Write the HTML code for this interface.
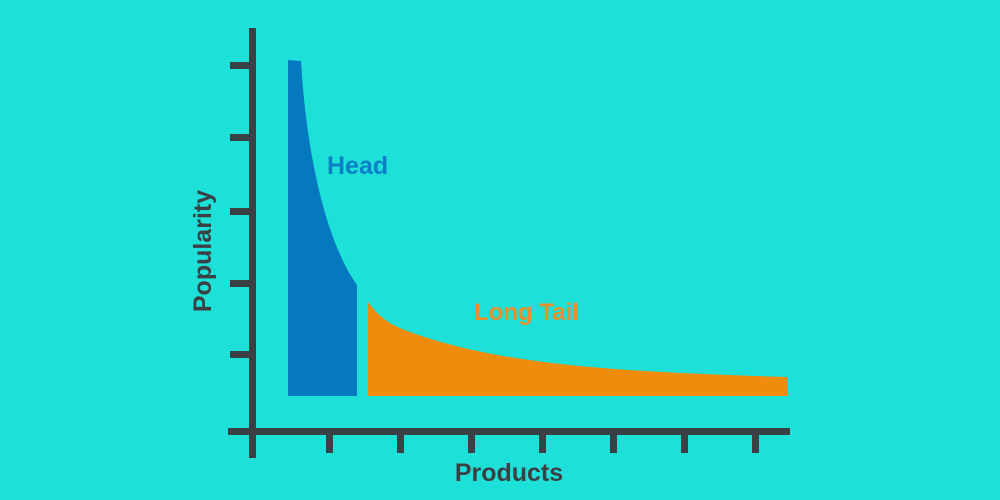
<!DOCTYPE html>
<html><head><meta charset="utf-8"><style>
html,body{margin:0;padding:0;background:#1de0d9;}
svg{display:block}
text{font-family:"Liberation Sans",sans-serif;font-weight:bold;}
</style></head><body>
<svg width="1000" height="500" viewBox="0 0 1000 500">
<rect width="1000" height="500" fill="#1de0d9"/>
<g fill="#3b4045">
<rect x="249" y="28" width="7" height="430"/>
<rect x="228" y="428" width="562" height="7"/>
<rect x="230" y="62" width="22" height="7"/>
<rect x="230" y="134" width="22" height="7"/>
<rect x="230" y="208" width="22" height="7"/>
<rect x="230" y="280" width="22" height="7"/>
<rect x="230" y="351" width="22" height="7"/>
<rect x="326" y="430" width="7" height="23"/>
<rect x="397" y="430" width="7" height="23"/>
<rect x="468" y="430" width="7" height="23"/>
<rect x="539" y="430" width="7" height="23"/>
<rect x="610" y="430" width="7" height="23"/>
<rect x="681" y="430" width="7" height="23"/>
<rect x="752" y="430" width="7" height="23"/>
</g>
<path d="M288,60 L301,61 C306,150 325,240 357,285 L357,396 L288,396 Z" fill="#0579bf"/>
<path d="M368,302 C380,318 390,325 410,332 C500,365 620,372 788,377 L788,396 L368,396 Z" fill="#f08c0c"/>
<text x="327" y="174" font-size="25" fill="#0a80c6" font-weight="normal" style="font-weight:600">Head</text>
<text x="474" y="320" font-size="24" fill="#e8902a" style="font-weight:600">Long Tail</text>
<text x="509" y="481" font-size="25" fill="#3b4045" text-anchor="middle" style="font-weight:600">Products</text>
<text transform="translate(211,251) rotate(-90)" font-size="25" fill="#3b4045" text-anchor="middle" style="font-weight:600">Popularity</text>
</svg>
</body></html>
